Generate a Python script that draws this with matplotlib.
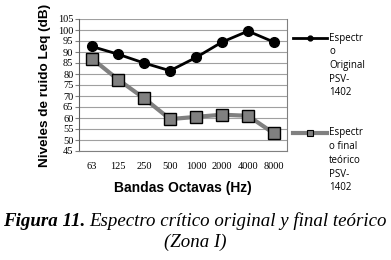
import matplotlib
matplotlib.use("Agg")
import matplotlib.pyplot as plt
from matplotlib.lines import Line2D

categories = ["63", "125", "250", "500", "1000", "2000", "4000", "8000"]
original = [92.5, 89, 85, 81.5, 87.5, 94.5, 99.5, 94.5]
final_teorico = [87, 77.5, 69, 59.5, 60.5, 61.5, 61, 53]
yticks = list(range(45, 106, 5))

W, H = 391, 260
fig = plt.figure(figsize=(W / 100, H / 100), dpi=100)

def fx(x):
    return x / W

def fy(y):
    return 1 - y / H

L, R, T, B = 79, 287, 19, 151
ax = fig.add_axes([fx(L), fy(B), fx(R) - fx(L), fy(T) - fy(B)])
x = list(range(len(categories)))
ax.plot(x, original, color="black", lw=2, marker="o", ms=7, mfc="black", mec="black", zorder=3)
ax.plot(x, final_teorico, color="#808080", lw=3, marker="s", ms=9, mfc="#808080", mec="black", mew=1, zorder=3)
ax.set_xlim(-0.5, len(categories) - 0.5)
ax.set_ylim(45, 105)
ax.set_yticks(yticks)
ax.set_yticklabels([str(v) for v in yticks], family="Liberation Serif", fontsize=7.5)
ax.set_xticks(x)
ax.set_xticklabels(categories, family="Liberation Serif", fontsize=7.5)
ax.tick_params(axis="x", length=0, pad=8)
ax.tick_params(axis="y", length=3, pad=1, color="#808080")
ax.grid(axis="y", color="#a0a0a0", lw=0.8)
ax.set_axisbelow(True)
ax.spines["top"].set_visible(False)
ax.spines["right"].set_color("#808080")
ax.spines["bottom"].set_color("#808080")
ax.spines["left"].set_color("#606060")
ax.set_xlabel("Bandas Octavas (Hz)", family="Liberation Sans", fontweight="bold", fontsize=10, labelpad=7)
ax.set_ylabel("Niveles de ruido Leq (dB)", family="Liberation Sans", fontweight="bold", fontsize=9.7, labelpad=5)

# legend drawn manually
fig.add_artist(Line2D([fx(293), fx(327)], [fy(38), fy(38)], color="black", lw=2, transform=fig.transFigure))
fig.add_artist(Line2D([fx(310)], [fy(38)], lw=0, marker="o", ms=3.5, mfc="black", mec="black",
                      transform=fig.transFigure))
fig.add_artist(Line2D([fx(293), fx(327)], [fy(133), fy(133)], color="#808080", lw=3,
                      transform=fig.transFigure))
fig.add_artist(Line2D([fx(310)], [fy(133)], color="#808080", lw=0, marker="s", ms=4.5,
                      mfc="#808080", mec="black", mew=0.8, transform=fig.transFigure))
leg1 = ["Espectr", "o", "Original", "PSV-", "1402"]
leg2 = ["Espectr", "o final", "teórico", "PSV-", "1402"]
for i, t in enumerate(leg1):
    fig.text(fx(329), fy(38 + i * 13.7), t, family="Open Sans", fontsize=7, va="center", ha="left")
for i, t in enumerate(leg2):
    fig.text(fx(329), fy(133 + i * 13.7), t, family="Open Sans", fontsize=7, va="center", ha="left")

# caption
cap_y = fy(221)
fs = 13.6
t1 = fig.text(fx(3), cap_y, "Figura 11.", family="Liberation Serif", style="italic", fontweight="bold",
              fontsize=fs, va="center", ha="left")
fig.canvas.draw()
bb = t1.get_window_extent()
fig.text(bb.x1 / W + fx(4), cap_y, "Espectro crítico original y final teórico", family="Liberation Serif",
         style="italic", fontsize=fs, va="center", ha="left")
fig.text(0.5, fy(242), "(Zona I)", family="Liberation Serif", style="italic", fontsize=fs, va="center", ha="center")

fig.savefig("out.png", dpi=100)
